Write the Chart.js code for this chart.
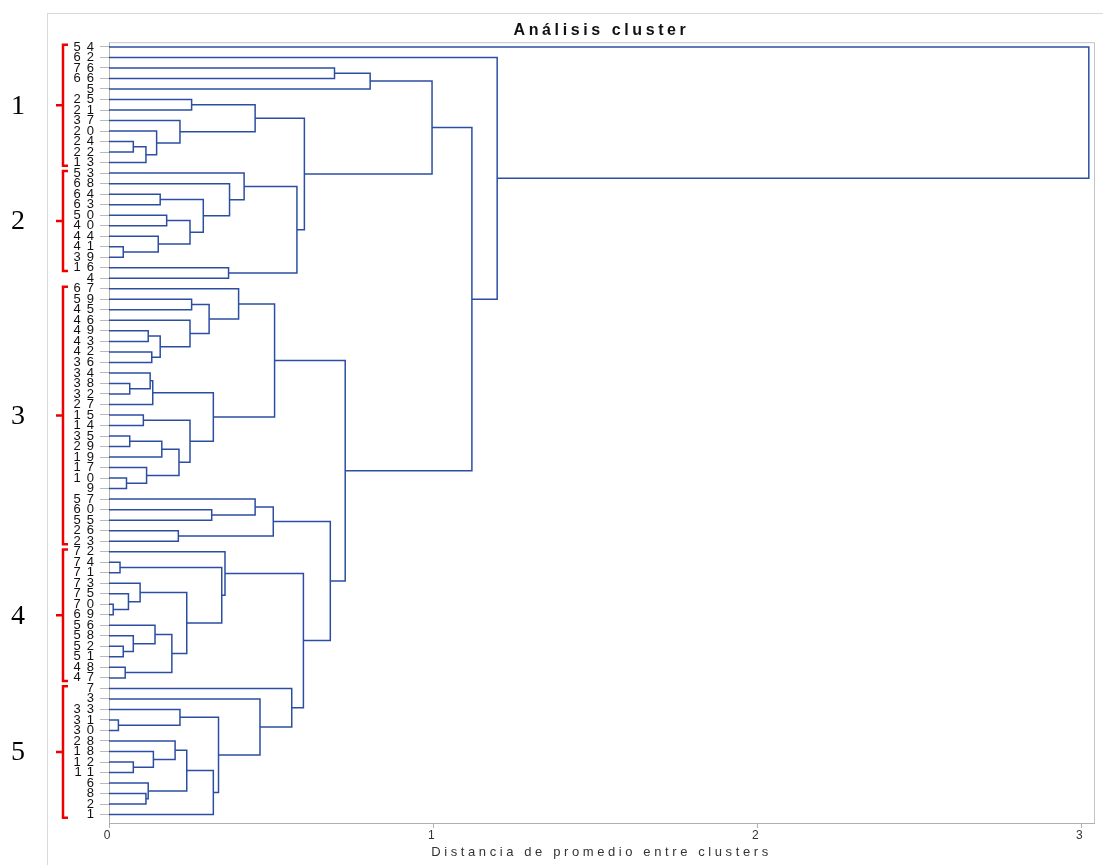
<!DOCTYPE html>
<html>
<head>
<meta charset="utf-8">
<script src="https://cdn.jsdelivr.net/npm/chart.js@4.4.1/dist/chart.umd.min.js"></script>
<style>
  html, body { margin: 0; padding: 0; background: #fff; }
  #wrap { position: relative; width: 1103px; height: 865px; overflow: hidden; }
  #frame { position: absolute; left: 47px; top: 13px; width: 1100px; height: 900px;
           border-left: 1px solid #d9d9d9; border-top: 1px solid #d9d9d9; }
  canvas { position: absolute; left: 0; top: 0; }
</style>
</head>
<body>
<div id="wrap"><div id="frame"></div><canvas id="chart" width="1103" height="865"></canvas></div>
<script>
// leaves, top to bottom
const leafLabels = [54, 62, 76, 66, 5, 25, 21, 37, 20, 24, 22, 13,
  53, 68, 64, 63, 50, 40, 44, 41, 39, 16, 4,
  67, 59, 45, 46, 49, 43, 42, 36, 34, 38, 32, 27, 15, 14, 35, 29, 19, 17, 10, 9,
  57, 60, 55, 26, 23,
  72, 74, 71, 73, 75, 70, 69, 56, 58, 52, 51, 48, 47,
  7, 3, 33, 31, 30, 28, 18, 12, 11, 6, 8, 2, 1];

// merges: [left, right, distance]; 'mN' = result of merge N
const merges = [
  [76, 66, 0.696], ['m0', 5, 0.806],
  [25, 21, 0.255], [24, 22, 0.075], ['m3', 13, 0.114], [20, 'm4', 0.147],
  [37, 'm5', 0.219], ['m2', 'm6', 0.451],
  [64, 63, 0.158], [50, 40, 0.178], [41, 39, 0.044], [44, 'm10', 0.152],
  ['m9', 'm11', 0.25], ['m8', 'm12', 0.291], [68, 'm13', 0.372], [53, 'm14', 0.417],
  [16, 4, 0.369], ['m15', 'm16', 0.58], ['m7', 'm17', 0.603], ['m1', 'm18', 0.997],
  [59, 45, 0.255], [49, 43, 0.121], [42, 36, 0.132], ['m21', 'm22', 0.158],
  [46, 'm23', 0.25], ['m20', 'm24', 0.309], [67, 'm25', 0.40],
  [38, 32, 0.064], [34, 'm27', 0.127], ['m28', 27, 0.135],
  [15, 14, 0.106], [35, 29, 0.064], ['m31', 19, 0.163], [10, 9, 0.054],
  [17, 'm33', 0.116], ['m32', 'm34', 0.216], ['m30', 'm35', 0.25],
  ['m29', 'm36', 0.322], ['m26', 'm37', 0.511],
  [60, 55, 0.317], [57, 'm39', 0.451], [26, 23, 0.214], ['m40', 'm41', 0.507],
  [74, 71, 0.034], [70, 69, 0.013], [75, 'm44', 0.06], [73, 'm45', 0.096],
  [52, 51, 0.044], [58, 'm47', 0.075], [56, 'm48', 0.142], [48, 47, 0.05],
  ['m49', 'm50', 0.194], ['m46', 'm51', 0.24], ['m43', 'm52', 0.348], [72, 'm53', 0.358],
  [31, 30, 0.029], [33, 'm55', 0.219], [12, 11, 0.075], [18, 'm57', 0.137],
  [28, 'm58', 0.204], [8, 2, 0.114], [6, 'm60', 0.121], ['m59', 'm61', 0.24],
  ['m62', 1, 0.322], ['m56', 'm63', 0.338], [3, 'm64', 0.466], [7, 'm65', 0.564],
  ['m54', 'm66', 0.60], ['m42', 'm67', 0.683], ['m38', 'm68', 0.729],
  ['m19', 'm69', 1.12], [62, 'm70', 1.198], [54, 'm71', 3.024]
];

const xTicks = [0, 1, 2, 3];

// red brackets on the left
const groupNames = ['1', '2', '3', '4', '5'];
const groupFirst = [54, 53, 67, 72, 7];
const groupLast = [13, 16, 23, 47, 1];

const lineColor = '#2b4ea2';
const pos = {};
leafLabels.forEach((l, i) => { pos[l] = { h: 0, y: i }; });
const datasets = merges.map(([a, b, h], i) => {
  const A = pos[a], B = pos[b];
  pos['m' + i] = { h: h, y: (A.y + B.y) / 2 };
  return {
    data: [{ x: A.h, y: A.y }, { x: h, y: A.y }, { x: h, y: B.y }, { x: B.h, y: B.y }],
    showLine: true,
    borderColor: lineColor,
    borderWidth: 1.5,
    pointRadius: 0
  };
});

const textSpacing = {
  id: 'textSpacing',
  beforeDraw(chart) { chart.ctx.letterSpacing = '3.6px'; },
  afterDatasetsDraw(chart) { chart.ctx.letterSpacing = '6px'; },
  afterDraw(chart) { chart.ctx.letterSpacing = '0px'; }
};

const plotBox = {
  id: 'plotBox',
  beforeDatasetsDraw(chart) {
    const { ctx, chartArea: a } = chart;
    ctx.save();
    ctx.strokeStyle = '#c4c4c4';
    ctx.lineWidth = 1;
    ctx.beginPath();
    ctx.moveTo(a.left, a.top + 0.5);
    ctx.lineTo(a.right + 0.5, a.top + 0.5);
    ctx.lineTo(a.right + 0.5, a.bottom);
    ctx.stroke();
    ctx.restore();
  }
};

const brackets = {
  id: 'brackets',
  afterDraw(chart) {
    const ctx = chart.ctx, y = chart.scales.y;
    ctx.save();
    groupNames.forEach((name, i) => {
      const a = leafLabels.indexOf(groupFirst[i]);
      const b = leafLabels.indexOf(groupLast[i]);
      const top = y.getPixelForValue(a - 0.2);
      const bot = y.getPixelForValue(b + 0.3);
      const mid = (top + bot) / 2;
      ctx.strokeStyle = '#ee0000';
      ctx.lineWidth = 2.5;
      ctx.beginPath();
      ctx.moveTo(68, top); ctx.lineTo(63, top); ctx.lineTo(63, bot); ctx.lineTo(68, bot);
      ctx.moveTo(56, mid); ctx.lineTo(63, mid);
      ctx.stroke();
      ctx.fillStyle = '#000';
      ctx.font = '28px "Liberation Serif"';
      ctx.textAlign = 'center';
      ctx.textBaseline = 'middle';
      ctx.fillText(name, 18, mid + 1);
    });
    ctx.restore();
  }
};

const font = '"Liberation Sans", Arial, sans-serif';

new Chart(document.getElementById('chart'), {
  type: 'scatter',
  data: { datasets },
  options: {
    responsive: false,
    animation: false,
    events: [],
    layout: { padding: { left: 70, right: 9, top: 0, bottom: 0 } },
    plugins: {
      legend: { display: false },
      tooltip: { enabled: false },
      title: {
        display: true,
        text: 'Análisis cluster',
        fullSize: false,
        color: '#111',
        font: { family: font, size: 16, weight: 'bold' },
        padding: { top: 21, bottom: 2 }
      }
    },
    scales: {
      x: {
        type: 'linear',
        min: 0,
        max: 3.04,
        afterFit(s) { s.height = 42; },
        afterBuildTicks(s) { s.ticks = xTicks.map(v => ({ value: v })); },
        grid: { drawOnChartArea: false, tickLength: 5, color: '#b0b0b0' },
        border: { color: '#b0b0b0' },
        ticks: { color: '#333', font: { family: font, size: 12 }, padding: 0 },
        title: {
          display: true,
          text: 'Distancia de promedio entre clusters',
          color: '#333',
          font: { family: font, size: 13 },
          padding: { top: 0, bottom: 5 }
        }
      },
      y: {
        type: 'linear',
        reverse: true,
        min: -0.45,
        max: 73.8,
        afterFit(s) { s.width = 39; },
        afterBuildTicks(s) { s.ticks = leafLabels.map((_, i) => ({ value: i })); },
        grid: { drawOnChartArea: false, tickLength: 9, color: '#b8b8b8' },
        border: { color: '#b0b0b0' },
        ticks: {
          autoSkip: false,
          z: 1,
          padding: 0,
          color: '#111',
          font: { family: font, size: 13 },
          callback: v => leafLabels[v]
        }
      }
    }
  },
  plugins: [textSpacing, plotBox, brackets]
});
</script>
</body>
</html>
